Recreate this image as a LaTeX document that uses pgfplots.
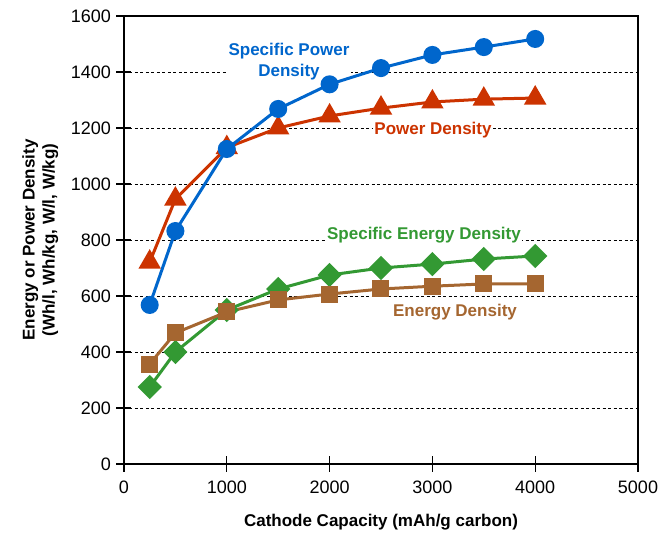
\documentclass[border=0pt]{standalone}
\usepackage{pgfplots}
\pgfplotsset{compat=1.18}
\usepackage{fontspec}
\setmainfont{Liberation Sans}
\definecolor{cblue}{RGB}{0,102,204}
\definecolor{cred}{RGB}{204,51,0}
\definecolor{cgreen}{RGB}{51,153,51}
\definecolor{cbrown}{RGB}{165,102,48}
\begin{document}
\begin{tikzpicture}
\useasboundingbox (-124bp,-79bp) rectangle (548bp,464bp);
\begin{axis}[
  scale only axis, width=514bp, height=448bp,
  xmin=0, xmax=5000, ymin=0, ymax=1600,
  xtick={0,1000,...,5000}, ytick={0,200,...,1600},
  xtick pos=bottom, ytick pos=left,
  tick align=center, major tick length=15bp,
  every tick/.style={black, line width=1.2bp},
  axis line style={line width=1.5bp},
  ymajorgrids, grid style={black, dashed, line width=0.6bp, dash pattern=on 3bp off 2.5bp},
  /pgf/number format/1000 sep={},
  /pgf/number format/assume math mode=true,
  tick label style={font=\fontsize{18bp}{20bp}\selectfont},
  xticklabel style={yshift=-6bp},
  yticklabel style={xshift=-2bp},
  xlabel={Cathode Capacity (mAh/g carbon)},
  ylabel={Energy or Power Density\\(Wh/l, Wh/kg, W/l, W/kg)},
  every axis x label/.style={at={(axis description cs:0.5,-0.13)}, anchor=center, font=\fontsize{17bp}{20bp}\selectfont\bfseries},
  every axis y label/.style={at={(axis description cs:-0.163,0.5)}, anchor=center, rotate=90, align=center, font=\fontsize{17bp}{20bp}\selectfont\bfseries},
  clip=false,
]
\tikzset{lbl/.style={fill=white, inner sep=1.5bp, font=\fontsize{17bp}{21bp}\selectfont\bfseries}}
\node[lbl, text=cblue, align=center] at (axis cs:1605,1436) {Specific Power\\Density};
\node[lbl, text=cred] at (axis cs:3006,1193) {Power Density};
\node[lbl, text=cgreen] at (axis cs:2918,818) {Specific Energy Density};
\node[lbl, text=cbrown] at (axis cs:3220,543) {Energy Density};
\addplot[cred, line width=3bp, mark=triangle*, mark size=10bp, mark options={solid}] coordinates {
(250,721) (500,946) (1000,1130) (1500,1200) (2000,1243) (2500,1271) (3000,1293) (3500,1303) (4000,1307)};
\addplot[cblue, line width=3bp, mark=*, mark size=7.5bp] coordinates {
(250,568) (500,832) (1000,1125) (1500,1268) (2000,1356) (2500,1414) (3000,1461) (3500,1489) (4000,1518)};
\addplot[cgreen, line width=3bp, mark=diamond*, mark size=10bp, mark options={xscale=1.33}] coordinates {
(250,275) (500,400) (1000,550) (1500,625) (2000,675) (2500,700) (3000,714) (3500,732) (4000,743)};
\addplot[cbrown, line width=3bp, mark=square*, mark size=7bp] coordinates {
(250,357) (500,468) (1000,543) (1500,586) (2000,607) (2500,625) (3000,635) (3500,643) (4000,643)};
\end{axis}
\end{tikzpicture}
\end{document}
